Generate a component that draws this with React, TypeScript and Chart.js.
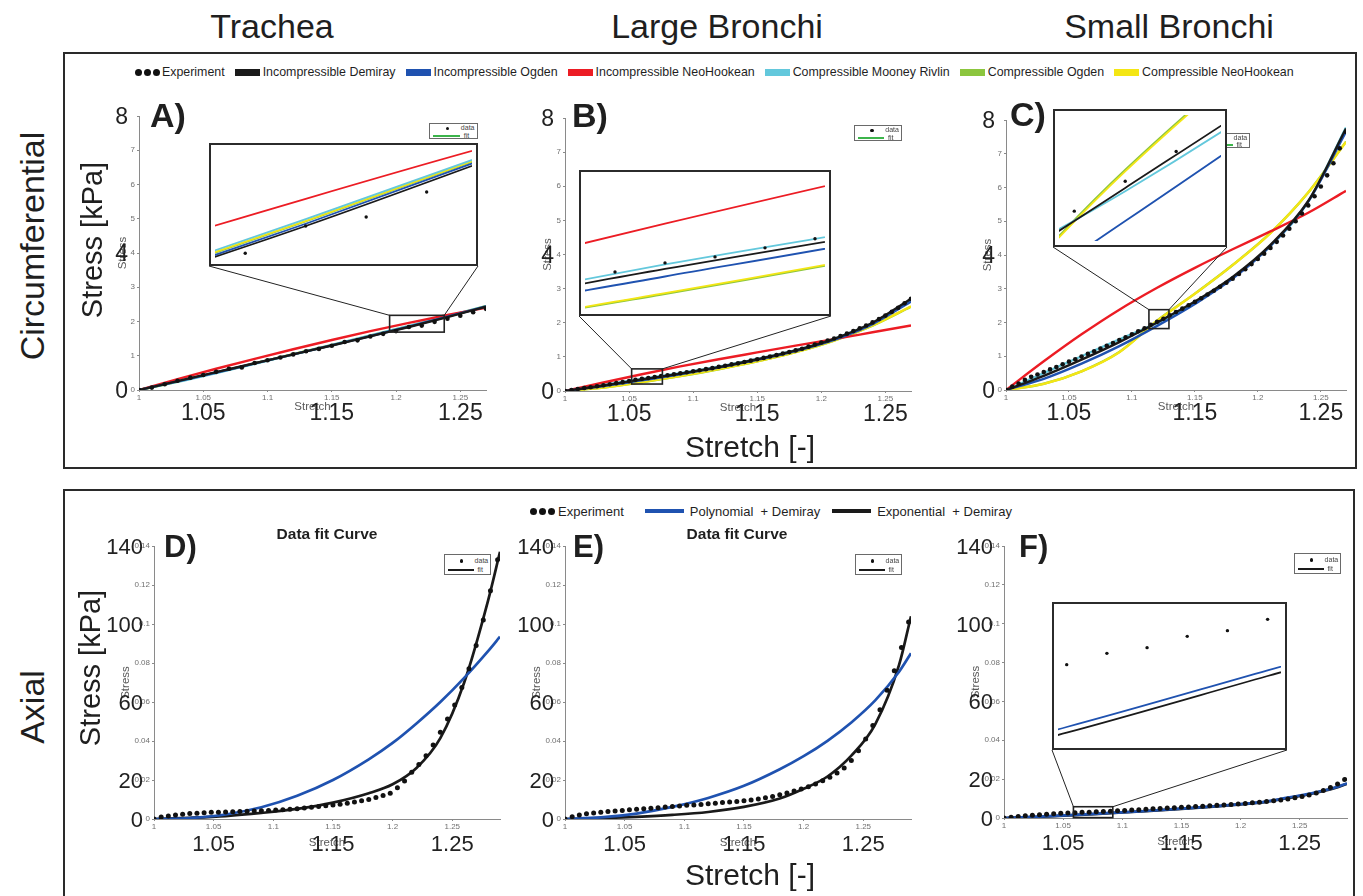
import React, { useEffect, useRef } from "react";
import { Chart, registerables } from "chart.js";

Chart.register(...registerables);

const FONT = "'Liberation Sans', Arial, Helvetica, sans-serif";

// ---------- colours ----------
const C_BLACK = "#1a1a1a";
const C_BLUE = "#1f52b0";
const C_RED = "#ec1c24";
const C_CYAN = "#63c8dc";
const C_GREEN = "#8cc63e";
const C_YELLOW = "#f4e614";
const C_FIT = "#3cb44b";

// ---------- axes ----------
const stretchTicks = [1, 1.05, 1.1, 1.15, 1.2, 1.25];
const stretchTickLabels = ["1", "1.05", "1.1", "1.15", "1.2", "1.25"];
const bigStretchValues = [1.05, 1.15, 1.25];
const bigStretchLabels = ["1.05", "1.15", "1.25"];
const circStressTicks = [0, 1, 2, 3, 4, 5, 6, 7, 8];
const circStressTickLabels = ["0", "1", "2", "3", "4", "5", "6", "7", ""];
const circBigStress = [0, 4, 8];
const circBigStressLabels = ["0", "4", "8"];
const axialStressTicks = [0, 0.02, 0.04, 0.06, 0.08, 0.1, 0.12, 0.14];
const axialStressTickLabels = ["0", "0.02", "0.04", "0.06", "0.08", "0.1", "0.12", "0.14"];
const axialBigStress = [0, 0.02, 0.06, 0.1, 0.14];
const axialBigStressLabels = ["0", "20", "60", "100", "140"];

// ---------- legends ----------
const circLegendLabels = ["Experiment", "Incompressible Demiray", "Incompressible Ogden", "Incompressible NeoHookean", "Compressible Mooney Rivlin", "Compressible Ogden", "Compressible NeoHookean"];
const circLegendColors = ["", C_BLACK, C_BLUE, C_RED, C_CYAN, C_GREEN, C_YELLOW];
const axialLegendLabels = ["Experiment", "Polynomial  + Demiray", "Exponential  + Demiray"];
const axialLegendColors = ["", C_BLUE, C_BLACK];

// ---------- stretch grids ----------
const modelStretchCirc = [1.0, 1.03, 1.06, 1.09, 1.12, 1.15, 1.18, 1.21, 1.24, 1.27];
const modelStretchAxial = [1.0, 1.03, 1.06, 1.09, 1.12, 1.15, 1.18, 1.2, 1.22, 1.24, 1.26, 1.28, 1.29];
const expStretchTrachea = [1.0, 1.01, 1.02, 1.03, 1.04, 1.05, 1.06, 1.07, 1.08, 1.09, 1.1, 1.11, 1.12, 1.13, 1.14, 1.15, 1.16, 1.17, 1.18, 1.19, 1.2, 1.21, 1.22, 1.23, 1.24, 1.25, 1.26, 1.27];
const expStretchBronchi = [1.0, 1.005, 1.01, 1.015, 1.02, 1.025, 1.03, 1.035, 1.04, 1.045, 1.05, 1.055, 1.06, 1.065, 1.07, 1.075, 1.08, 1.085, 1.09, 1.095, 1.1, 1.105, 1.11, 1.115, 1.12, 1.125, 1.13, 1.135, 1.14, 1.145, 1.15, 1.155, 1.16, 1.165, 1.17, 1.175, 1.18, 1.185, 1.19, 1.195, 1.2, 1.205, 1.21, 1.215, 1.22, 1.225, 1.23, 1.235, 1.24, 1.245, 1.25, 1.255, 1.26, 1.265, 1.27];
const expStretchAxial = [1.0, 1.006, 1.012, 1.018, 1.024, 1.03, 1.036, 1.042, 1.048, 1.054, 1.06, 1.066, 1.072, 1.078, 1.084, 1.09, 1.096, 1.102, 1.108, 1.114, 1.12, 1.126, 1.132, 1.138, 1.144, 1.15, 1.156, 1.162, 1.168, 1.174, 1.18, 1.186, 1.192, 1.198, 1.204, 1.21, 1.216, 1.222, 1.228, 1.234, 1.24, 1.246, 1.252, 1.258, 1.264, 1.27, 1.276, 1.282, 1.288];

// ---------- A) Trachea circumferential ----------
const expA = [0, 0.07, 0.17, 0.27, 0.36, 0.44, 0.53, 0.62, 0.66, 0.79, 0.87, 0.95, 1.04, 1.13, 1.2, 1.29, 1.4, 1.45, 1.56, 1.64, 1.72, 1.84, 1.88, 1.99, 2.08, 2.17, 2.27, 2.37];
const incDemirayA = [0, 0.26, 0.52, 0.78, 1.04, 1.3, 1.57, 1.84, 2.13, 2.43];
const incOgdenA = [0, 0.25, 0.51, 0.775, 1.04, 1.305, 1.575, 1.85, 2.14, 2.44];
const incNeoA = [0, 0.32, 0.62, 0.91, 1.19, 1.46, 1.72, 1.96, 2.19, 2.4];
const compMooneyA = [0, 0.235, 0.495, 0.765, 1.04, 1.315, 1.595, 1.87, 2.155, 2.45];
const compOgdenA = [0, 0.245, 0.505, 0.775, 1.045, 1.31, 1.585, 1.86, 2.148, 2.447];
const compNeoA = [0, 0.245, 0.505, 0.775, 1.045, 1.312, 1.588, 1.863, 2.15, 2.448];

// ---------- B) Large bronchi circumferential ----------
const expB = [0, 0.03, 0.06, 0.09, 0.11, 0.14, 0.17, 0.2, 0.23, 0.26, 0.29, 0.33, 0.36, 0.38, 0.41, 0.44, 0.46, 0.49, 0.52, 0.55, 0.58, 0.61, 0.64, 0.67, 0.71, 0.74, 0.78, 0.81, 0.85, 0.89, 0.93, 0.97, 1.01, 1.05, 1.1, 1.14, 1.19, 1.24, 1.3, 1.36, 1.42, 1.48, 1.54, 1.61, 1.68, 1.76, 1.84, 1.92, 2.01, 2.11, 2.21, 2.32, 2.44, 2.57, 2.7];
const incDemirayB = [0, 0.16, 0.34, 0.51, 0.7, 0.93, 1.19, 1.53, 2.0, 2.7];
const incOgdenB = [0, 0.145, 0.315, 0.49, 0.685, 0.91, 1.17, 1.5, 1.96, 2.62];
const incNeoB = [0, 0.25, 0.49, 0.72, 0.93, 1.13, 1.33, 1.52, 1.72, 1.92];
const compMooneyB = [0, 0.17, 0.355, 0.525, 0.715, 0.94, 1.2, 1.53, 1.99, 2.68];
const compOgdenB = [0, 0.098, 0.257, 0.437, 0.637, 0.868, 1.138, 1.478, 1.918, 2.47];
const compNeoB = [0, 0.1, 0.26, 0.44, 0.64, 0.87, 1.14, 1.48, 1.92, 2.48];

// ---------- C) Small bronchi circumferential ----------
const expC = [0, 0.1, 0.19, 0.3, 0.39, 0.46, 0.53, 0.61, 0.68, 0.76, 0.84, 0.91, 0.99, 1.07, 1.15, 1.23, 1.31, 1.39, 1.48, 1.56, 1.65, 1.74, 1.83, 1.93, 2.02, 2.11, 2.21, 2.31, 2.41, 2.51, 2.61, 2.72, 2.83, 2.94, 3.06, 3.18, 3.3, 3.44, 3.58, 3.73, 3.88, 4.04, 4.21, 4.39, 4.58, 4.78, 5.0, 5.23, 5.47, 5.74, 6.03, 6.36, 6.72, 7.16, 7.65];
const incDemirayC = [0, 0.42, 0.9, 1.42, 2.0, 2.62, 3.35, 4.3, 5.6, 7.75];
const incOgdenC = [0, 0.33, 0.78, 1.3, 1.9, 2.55, 3.3, 4.27, 5.58, 7.65];
const incNeoC = [0, 0.85, 1.65, 2.38, 3.03, 3.62, 4.17, 4.7, 5.25, 5.9];
const compMooneyC = [0, 0.5, 1.0, 1.5, 1.99, 2.6, 3.33, 4.27, 5.58, 7.78];
const compOgdenC = [0, 0.185, 0.555, 1.125, 2.055, 2.855, 3.705, 4.655, 5.855, 7.36];
const compNeoC = [0, 0.18, 0.55, 1.12, 2.05, 2.85, 3.7, 4.65, 5.85, 7.35];

// ---------- D) Trachea axial ----------
const expD = [0, 0.001, 0.0016, 0.0021, 0.0025, 0.0028, 0.003, 0.0032, 0.0034, 0.0035, 0.0036, 0.0037, 0.0038, 0.004, 0.0041, 0.0042, 0.0044, 0.0046, 0.0048, 0.005, 0.0053, 0.0056, 0.006, 0.0064, 0.0068, 0.0072, 0.0076, 0.0081, 0.0087, 0.0093, 0.01, 0.011, 0.012, 0.0132, 0.016, 0.0195, 0.024, 0.028, 0.0325, 0.038, 0.0445, 0.0513, 0.0585, 0.0675, 0.077, 0.089, 0.102, 0.117, 0.133];
const polyD = [0, 0.0005, 0.0023, 0.006, 0.0119, 0.02, 0.0306, 0.039, 0.049, 0.06, 0.0724, 0.0861, 0.0935];
const expoD = [0, 0.0006, 0.0015, 0.0031, 0.0052, 0.0084, 0.0132, 0.0178, 0.0262, 0.0415, 0.07, 0.112, 0.137];

// ---------- E) Large bronchi axial ----------
const expE = [0, 0.0012, 0.0021, 0.0027, 0.0031, 0.0035, 0.0038, 0.0041, 0.0044, 0.0047, 0.005, 0.0052, 0.0055, 0.0058, 0.0061, 0.0064, 0.0067, 0.007, 0.0072, 0.0075, 0.0078, 0.0081, 0.0084, 0.0087, 0.009, 0.0094, 0.0098, 0.0103, 0.0109, 0.0116, 0.0124, 0.0133, 0.0143, 0.0154, 0.0166, 0.018, 0.0196, 0.0214, 0.0236, 0.0262, 0.03, 0.035, 0.041, 0.048, 0.056, 0.066, 0.076, 0.088, 0.101];
const polyE = [0, 0.0008, 0.0028, 0.0062, 0.0108, 0.017, 0.0255, 0.0322, 0.0401, 0.0495, 0.0608, 0.0755, 0.0850];
const expoE = [0, 0.0004, 0.0011, 0.0021, 0.0036, 0.0062, 0.0105, 0.0155, 0.0218, 0.0325, 0.0485, 0.079, 0.104];

// ---------- F) Small bronchi axial ----------
const expF = [0, 0.0004, 0.0008, 0.0011, 0.0014, 0.0017, 0.0019, 0.0022, 0.0024, 0.0026, 0.0027, 0.0029, 0.003, 0.0032, 0.0033, 0.0035, 0.0037, 0.0039, 0.0041, 0.0043, 0.0045, 0.0047, 0.0049, 0.0051, 0.0053, 0.0055, 0.0057, 0.0059, 0.0061, 0.0063, 0.0065, 0.0067, 0.0069, 0.0072, 0.0075, 0.0078, 0.0081, 0.0085, 0.0089, 0.0093, 0.0098, 0.0104, 0.0111, 0.0119, 0.0129, 0.0141, 0.0157, 0.0175, 0.0198];
const polyF = [0, 0.0007, 0.0016, 0.0026, 0.0036, 0.0048, 0.0061, 0.0071, 0.0083, 0.0105, 0.0127, 0.0157, 0.0178];
const expoF = [0, 0.0006, 0.0015, 0.0025, 0.0035, 0.0047, 0.006, 0.007, 0.0082, 0.0103, 0.0125, 0.0155, 0.0176];

// ---------- zoom windows [xMin, xMax, yMin, yMax] ----------
const zoomBoxA = [1.195, 1.2375, 1.69, 2.18];
const zoomBoxB = [1.052, 1.076, 0.204, 0.648];
const zoomBoxC = [1.1135, 1.1294, 1.82, 2.38];
const insetViewC = [1.1135, 1.1294, 1.84, 2.22];
const zoomBoxF = [1.0587, 1.092, 0.0002, 0.0058];
const insetViewF = [1.0587, 1.092, 0.0013, 0.0037];

type Series = { label: string; color: string; y: number[] };
type Rect = { l: number; t: number; r: number; b: number };
type Panel = {
  key: string;
  plot: Rect;
  xMax: number;
  yMax: number;
  yTicks: number[];
  yTickLabels: string[];
  bigY: number[];
  bigYLabels: string[];
  bigSize: number;
  bigXOffset: number;
  xTitleOffset: number;
  yTitleOffset: number;
  expX: number[];
  expY: number[];
  dotR: number;
  lineW: number;
  modelX: number[];
  series: Series[];
  box?: number[];
  view?: number[];
  inset?: Rect;
  legendBox: { l: number; t: number; w: number; h: number };
  fitColor: string;
};

const circSeries = (dem: number[], ogd: number[], neo: number[], moo: number[], cog: number[], cneo: number[]): Series[] => [
  { label: circLegendLabels[1], color: C_BLACK, y: dem },
  { label: circLegendLabels[2], color: C_BLUE, y: ogd },
  { label: circLegendLabels[3], color: C_RED, y: neo },
  { label: circLegendLabels[4], color: C_CYAN, y: moo },
  { label: circLegendLabels[6], color: C_YELLOW, y: cneo },
  { label: circLegendLabels[5], color: C_GREEN, y: cog },
];
const axialSeries = (poly: number[], expo: number[]): Series[] => [
  { label: axialLegendLabels[1], color: C_BLUE, y: poly },
  { label: axialLegendLabels[2], color: C_BLACK, y: expo },
];

const circBase = {
  xMax: 1.27, yMax: 8, yTicks: circStressTicks, yTickLabels: circStressTickLabels,
  bigY: circBigStress, bigYLabels: circBigStressLabels, bigSize: 23, bigXOffset: 22,
  xTitleOffset: 17, dotR: 2.3, lineW: 2.4, modelX: modelStretchCirc, fitColor: C_FIT,
};
const axialBase = {
  xMax: 1.29, yMax: 0.14, yTicks: axialStressTicks, yTickLabels: axialStressTickLabels,
  bigY: axialBigStress, bigYLabels: axialBigStressLabels, bigSize: 22, bigXOffset: 24,
  xTitleOffset: 24, yTitleOffset: 28, expX: expStretchAxial, dotR: 2.5, lineW: 2.7,
  modelX: modelStretchAxial, fitColor: C_BLACK,
};

const panels: Panel[] = [
  { ...circBase, key: "A", plot: { l: 139, t: 116, r: 486, b: 390 }, yTitleOffset: 16, expX: expStretchTrachea, expY: expA,
    series: circSeries(incDemirayA, incOgdenA, incNeoA, compMooneyA, compOgdenA, compNeoA),
    box: zoomBoxA, view: zoomBoxA, inset: { l: 209, t: 143, r: 478, b: 266 }, legendBox: { l: 429, t: 123, w: 49, h: 16 } },
  { ...circBase, key: "B", plot: { l: 565, t: 118, r: 911, b: 391 }, yTitleOffset: 17, expX: expStretchBronchi, expY: expB,
    series: circSeries(incDemirayB, incOgdenB, incNeoB, compMooneyB, compOgdenB, compNeoB),
    box: zoomBoxB, view: zoomBoxB, inset: { l: 579, t: 170, r: 831, b: 316 }, legendBox: { l: 854, t: 125, w: 48, h: 16 } },
  { ...circBase, key: "C", plot: { l: 1006, t: 120, r: 1346, b: 390 }, yTitleOffset: 18, expX: expStretchBronchi, expY: expC,
    series: circSeries(incDemirayC, incOgdenC, incNeoC, compMooneyC, compOgdenC, compNeoC),
    box: zoomBoxC, view: insetViewC, inset: { l: 1053, t: 109, r: 1227, b: 247 }, legendBox: { l: 1203, t: 133, w: 47, h: 15 } },
  { ...axialBase, key: "D", plot: { l: 154, t: 546, r: 500, b: 819 }, expY: expD, series: axialSeries(polyD, expoD),
    legendBox: { l: 444, t: 554, w: 47, h: 21 } },
  { ...axialBase, key: "E", plot: { l: 565, t: 546, r: 911, b: 819 }, expY: expE, series: axialSeries(polyE, expoE),
    legendBox: { l: 855, t: 554, w: 47, h: 21 } },
  { ...axialBase, key: "F", plot: { l: 1004, t: 546, r: 1347, b: 818 }, expY: expF, series: axialSeries(polyF, expoF),
    box: zoomBoxF, view: insetViewF, inset: { l: 1052, t: 602, r: 1287, b: 750 }, legendBox: { l: 1294, t: 553, w: 47, h: 21 } },
];

function buildDatasets(p: Panel, inset: boolean): any[] {
  const ds: any[] = [
    {
      label: "Experiment",
      data: p.expX.map((x, i) => ({ x, y: p.expY[i] })),
      showLine: false,
      pointRadius: inset ? 1.7 : p.dotR,
      pointBorderWidth: 0,
      pointBackgroundColor: "#111",
      backgroundColor: "#111",
      borderColor: "#111",
    },
  ];
  p.series.forEach((s) => {
    ds.push({
      label: s.label,
      data: p.modelX.map((x, i) => ({ x, y: s.y[i] })),
      borderColor: s.color,
      backgroundColor: s.color,
      borderWidth: inset ? 1.8 : p.lineW,
      pointRadius: 0,
      fill: false,
      cubicInterpolationMode: "monotone",
    });
  });
  return ds;
}

const PADL = 60, PADT = 20, PADR = 12, PADB = 42;

function makeOverlay(p: Panel, canvasLeft: number, canvasTop: number) {
  return {
    id: "figureOverlay" + p.key,
    afterDraw(chart: any) {
      const { ctx, chartArea } = chart;
      const xs = chart.scales.x;
      const ys = chart.scales.y;
      ctx.save();
      if (p.box) {
        const x0 = xs.getPixelForValue(p.box[0]);
        const x1 = xs.getPixelForValue(p.box[1]);
        const y0 = ys.getPixelForValue(p.box[2]);
        const y1 = ys.getPixelForValue(p.box[3]);
        ctx.strokeStyle = "#222";
        ctx.lineWidth = 1.6;
        ctx.strokeRect(x0, y1, x1 - x0, y0 - y1);
        if (p.inset) {
          ctx.lineWidth = 1;
          ctx.beginPath();
          ctx.moveTo(p.inset.l - canvasLeft, p.inset.b - canvasTop);
          ctx.lineTo(x0, y1);
          ctx.moveTo(p.inset.r - canvasLeft, p.inset.b - canvasTop);
          ctx.lineTo(x1, y1);
          ctx.stroke();
        }
      }
      // small MATLAB axis titles
      ctx.fillStyle = "#5a5a5a";
      ctx.font = `11.5px ${FONT}`;
      ctx.textAlign = "center";
      ctx.textBaseline = "middle";
      ctx.fillText("Stretch", (chartArea.left + chartArea.right) / 2, chartArea.bottom + p.xTitleOffset);
      ctx.save();
      ctx.translate(chartArea.left - p.yTitleOffset, (chartArea.top + chartArea.bottom) / 2);
      ctx.rotate(-Math.PI / 2);
      ctx.fillText("Stress", 0, 0);
      ctx.restore();
      // big figure tick labels
      ctx.fillStyle = "#222";
      ctx.font = `${p.bigSize}px ${FONT}`;
      ctx.textBaseline = "alphabetic";
      const dy = p.bigSize * 0.358;
      ctx.textAlign = "right";
      p.bigY.forEach((v, i) => ctx.fillText(p.bigYLabels[i], chartArea.left - 11, ys.getPixelForValue(v) + dy));
      ctx.textAlign = "center";
      bigStretchValues.forEach((v, i) =>
        ctx.fillText(bigStretchLabels[i], xs.getPixelForValue(v), chartArea.bottom + p.bigXOffset + dy)
      );
      ctx.restore();
    },
  };
}

function MainChart({ p }: { p: Panel }) {
  const ref = useRef<HTMLCanvasElement>(null);
  const left = p.plot.l - PADL;
  const top = p.plot.t - PADT;
  const width = p.plot.r - p.plot.l + PADL + PADR;
  const height = p.plot.b - p.plot.t + PADT + PADB;
  useEffect(() => {
    const tickFont = { size: 8, family: FONT };
    const chart = new Chart(ref.current as HTMLCanvasElement, {
      type: "line",
      data: { datasets: buildDatasets(p, false) },
      options: {
        responsive: false,
        animation: false,
        events: [],
        devicePixelRatio: 1,
        layout: { padding: { top: PADT, right: PADR, left: 0, bottom: 0 } },
        plugins: { legend: { display: false }, tooltip: { enabled: false } },
        scales: {
          x: {
            type: "linear",
            min: 1,
            max: p.xMax,
            afterBuildTicks: (s: any) => {
              s.ticks = stretchTicks.map((v) => ({ value: v }));
            },
            afterFit: (s: any) => {
              s.height = PADB;
              s.paddingLeft = 0;
              s.paddingRight = 0;
            },
            ticks: {
              autoSkip: false,
              maxRotation: 0,
              padding: 1,
              color: "#707070",
              font: tickFont,
              callback: (_v: any, i: number) => stretchTickLabels[i],
            },
            grid: { drawOnChartArea: false, tickLength: 2, color: "#8a8a8a" },
            border: { display: true, color: "#8a8a8a", width: 1 },
          },
          y: {
            type: "linear",
            min: 0,
            max: p.yMax,
            afterBuildTicks: (s: any) => {
              s.ticks = p.yTicks.map((v) => ({ value: v }));
            },
            afterFit: (s: any) => {
              s.width = PADL;
              s.paddingTop = 0;
              s.paddingBottom = 0;
            },
            ticks: {
              autoSkip: false,
              padding: 2,
              color: "#707070",
              font: tickFont,
              callback: (_v: any, i: number) => p.yTickLabels[i],
            },
            grid: { drawOnChartArea: false, tickLength: 2, color: "#8a8a8a" },
            border: { display: true, color: "#8a8a8a", width: 1 },
          },
        },
      } as any,
      plugins: [makeOverlay(p, left, top)],
    });
    return () => chart.destroy();
  }, []);
  return (
    <canvas ref={ref} width={width} height={height} style={{ position: "absolute", left, top, width, height }} />
  );
}

function InsetChart({ p }: { p: Panel }) {
  const ref = useRef<HTMLCanvasElement>(null);
  const r = p.inset as Rect;
  const view = p.view as number[];
  const w = r.r - r.l;
  const h = r.b - r.t;
  useEffect(() => {
    const chart = new Chart(ref.current as HTMLCanvasElement, {
      type: "line",
      data: { datasets: buildDatasets(p, true) },
      options: {
        responsive: false,
        animation: false,
        events: [],
        devicePixelRatio: 1,
        layout: { padding: 0 },
        plugins: { legend: { display: false }, tooltip: { enabled: false } },
        scales: {
          x: { type: "linear", min: view[0], max: view[1], display: false },
          y: { type: "linear", min: view[2], max: view[3], display: false },
        },
      } as any,
    });
    return () => chart.destroy();
  }, []);
  return (
    <div style={{ position: "absolute", left: r.l, top: r.t, width: w, height: h, border: "2px solid #2b2b2b", boxSizing: "border-box", background: "#fff" }}>
      <canvas ref={ref} width={w - 4} height={h - 4} style={{ display: "block", width: w - 4, height: h - 4 }} />
    </div>
  );
}

function MiniLegend({ p }: { p: Panel }) {
  const { l, t, w, h } = p.legendBox;
  return (
    <div style={{ position: "absolute", left: l, top: t, width: w, height: h, border: "1px solid #6a6a6a", background: "#fff", boxSizing: "border-box", fontSize: 7, lineHeight: "7px", color: "#444", fontFamily: FONT }}>
      <div style={{ position: "absolute", left: w * 0.36 - 2, top: h * 0.3 - 2, width: 3.5, height: 3.5, borderRadius: "50%", background: "#111" }} />
      <div style={{ position: "absolute", left: w * 0.63, top: h * 0.3 - 4.5, color: "#444" }}>data</div>
      <div style={{ position: "absolute", left: 3, top: h * 0.72 - 1, width: w * 0.55, height: 2, background: p.fitColor }} />
      <div style={{ position: "absolute", left: w * 0.69, top: h * 0.72 - 4, color: "#444" }}>fit</div>
    </div>
  );
}

function Txt(props: { x: number; y: number; size: number; text: string; anchor?: "start" | "middle" | "end"; bold?: boolean }) {
  const { x, y, size, text, anchor = "start", bold = false } = props;
  const tx = anchor === "middle" ? "-50%" : anchor === "end" ? "-100%" : "0";
  return (
    <div style={{ position: "absolute", left: x, top: y - 0.8465 * size, fontSize: size, lineHeight: `${size}px`, fontWeight: bold ? 700 : 400, whiteSpace: "nowrap", transform: `translateX(${tx})`, color: "#1f1f1f" }}>
      {text}
    </div>
  );
}

function VTxt(props: { cx: number; cy: number; size: number; text: string }) {
  const { cx, cy, size, text } = props;
  return (
    <div style={{ position: "absolute", left: cx, top: cy, fontSize: size, lineHeight: `${size}px`, whiteSpace: "nowrap", transform: "translate(-50%, -50%) rotate(-90deg)", color: "#1f1f1f" }}>
      {text}
    </div>
  );
}

function Dots({ size }: { size: number }) {
  return (
    <div style={{ display: "flex", gap: 2, alignItems: "center" }}>
      {[0, 1, 2].map((i) => (
        <div key={i} style={{ width: size, height: size, borderRadius: "50%", background: "#111" }} />
      ))}
    </div>
  );
}

export default function App() {
  return (
    <div style={{ position: "absolute", left: 0, top: 0, width: 1363, height: 896, overflow: "hidden", background: "#fff", fontFamily: FONT, color: "#1f1f1f" }}>
      {/* frames */}
      <div style={{ position: "absolute", left: 63, top: 52, width: 1294, height: 417, border: "2px solid #2a2a2a", boxSizing: "border-box" }} />
      <div style={{ position: "absolute", left: 63, top: 489, width: 1292, height: 460, border: "2px solid #2a2a2a", boxSizing: "border-box" }} />

      {/* charts */}
      {panels.map((p) => (
        <MainChart key={"m" + p.key} p={p} />
      ))}
      {panels.map((p) => (
        <MiniLegend key={"l" + p.key} p={p} />
      ))}
      {panels.filter((p) => p.inset).map((p) => (
        <InsetChart key={"i" + p.key} p={p} />
      ))}

      {/* column headers */}
      <Txt x={272} y={38} size={34} text="Trachea" anchor="middle" />
      <Txt x={717} y={38} size={34} text="Large Bronchi" anchor="middle" />
      <Txt x={1169} y={38} size={34} text="Small Bronchi" anchor="middle" />

      {/* row labels */}
      <VTxt cx={32} cy={246} size={34} text="Circumferential" />
      <VTxt cx={32} cy={707} size={34} text="Axial" />
      <VTxt cx={92} cy={240} size={29} text="Stress [kPa]" />
      <VTxt cx={90} cy={668} size={29} text="Stress [kPa]" />
      <Txt x={750} y={457} size={30} text="Stretch [-]" anchor="middle" />
      <Txt x={750} y={885} size={30} text="Stretch [-]" anchor="middle" />

      {/* panel letters */}
      <Txt x={150} y={127} size={34} text="A)" bold />
      <Txt x={572} y={127} size={34} text="B)" bold />
      <Txt x={1010} y={126} size={34} text="C)" bold />
      <Txt x={164} y={557} size={31} text="D)" bold />
      <Txt x={573} y={557} size={31} text="E)" bold />
      <Txt x={1019} y={557} size={31} text="F)" bold />
      <Txt x={327} y={539} size={15.5} text="Data fit Curve" anchor="middle" bold />
      <Txt x={737} y={539} size={15.5} text="Data fit Curve" anchor="middle" bold />

      {/* circumferential legend */}
      <div style={{ position: "absolute", left: 135, top: 64, height: 16, display: "flex", alignItems: "center", gap: 10, fontSize: 12.4, whiteSpace: "nowrap" }}>
        {circLegendLabels.map((lab, i) => (
          <div key={lab} style={{ display: "flex", alignItems: "center" }}>
            {i === 0 ? <Dots size={7} /> : <div style={{ width: 25, height: 7, background: circLegendColors[i] }} />}
            <span style={{ marginLeft: i === 0 ? 2 : 3 }}>{lab}</span>
          </div>
        ))}
      </div>

      {/* axial legend */}
      <div style={{ position: "absolute", left: 530, top: 503, height: 16, display: "flex", alignItems: "center", fontSize: 13, whiteSpace: "pre" }}>
        {axialLegendLabels.map((lab, i) => (
          <div key={lab} style={{ display: "flex", alignItems: "center", marginLeft: i === 0 ? 0 : i === 1 ? 21 : 12 }}>
            {i === 0 ? <Dots size={7} /> : <div style={{ width: 39, height: 4, background: axialLegendColors[i] }} />}
            <span style={{ marginLeft: i === 0 ? 3 : 6 }}>{lab}</span>
          </div>
        ))}
      </div>
    </div>
  );
}
